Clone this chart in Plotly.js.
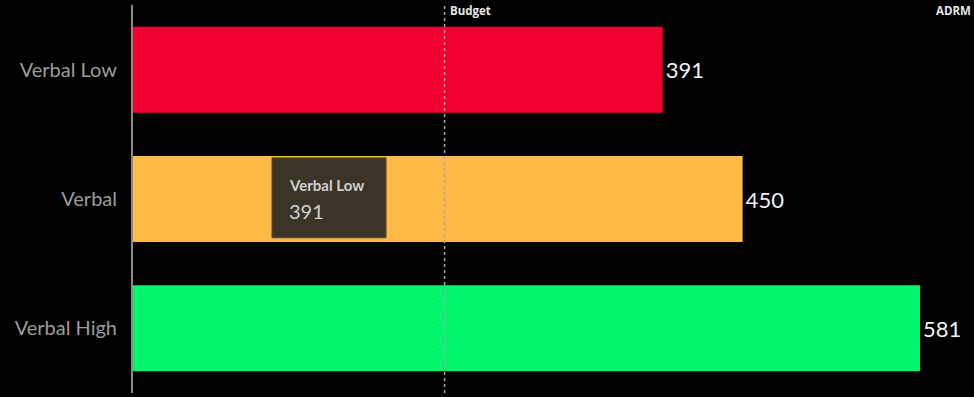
<!DOCTYPE html>
<html>
<head>
<meta charset="utf-8">
<script src="https://cdn.plot.ly/plotly-3.0.1.min.js"></script>
<style>
html,body{margin:0;padding:0;background:#000;overflow:hidden;}
#chart{width:974px;height:397px;}
</style>
</head>
<body>
<div id="chart"></div>
<script>
const categories = ["Verbal Low", "Verbal", "Verbal High"];
const values = [391, 450, 581];
const barColors = ["#F30033", "#FFB946", "#00F56E"];
const budgetValue = 230;
const budgetLabel = "Budget";
const adrmLabel = "ADRM";
const tooltipTitle = "Verbal Low";
const tooltipValue = 391;

const trace = {
  type: "bar",
  orientation: "h",
  y: categories,
  x: values,
  marker: {color: barColors, line: {width: 0}},
  text: values.map(String),
  textposition: "outside",
  textfont: {family: "Lato, 'Open Sans', sans-serif", size: 22, color: "#f2f2f2"},
  cliponaxis: false,
  hoverinfo: "skip"
};

const layout = {
  width: 974,
  height: 397,
  margin: {l: 133, r: 0, t: 5, b: 4},
  paper_bgcolor: "#000",
  plot_bgcolor: "#000",
  showlegend: false,
  hovermode: false,
  bargap: 0.335,
  font: {family: "Lato, 'Open Sans', sans-serif"},
  xaxis: {
    range: [0, 620.8],
    showgrid: false,
    zeroline: false,
    showticklabels: false,
    showline: false,
    fixedrange: true
  },
  yaxis: {
    autorange: "reversed",
    showgrid: false,
    zeroline: false,
    showline: true,
    linecolor: "#8a8a8a",
    linewidth: 2,
    ticks: "outside",
    ticklen: 10,
    tickcolor: "rgba(0,0,0,0)",
    tickfont: {family: "Lato, 'Open Sans', sans-serif", size: 20, color: "#9c9c9c"},
    fixedrange: true
  },
  shapes: [
    {type: "line", xref: "x", yref: "paper", x0: budgetValue, x1: budgetValue, y0: 0, y1: 1,
     line: {color: "#a8a8a8", width: 1.5, dash: "dot"}},
    {type: "rect", xref: "x", yref: "paper", x0: 102.6, x1: 186.8, y0: 0.400, y1: 0.606,
     fillcolor: "#3b3428", line: {color: "#5c4c2e", width: 1}, layer: "above"}
  ],
  annotations: [
    {x: budgetValue, y: 1, xref: "x", yref: "paper", xanchor: "left", yanchor: "top", xshift: 3, yshift: 4,
     text: "<b>" + budgetLabel + "</b>", showarrow: false,
     font: {family: "'Open Sans', sans-serif", size: 11.5, color: "#e6e6e6"}},
    {x: 1, y: 1, xref: "paper", yref: "paper", xanchor: "right", yanchor: "top", xshift: -1, yshift: 4,
     text: "<b>" + adrmLabel + "</b>", showarrow: false,
     font: {family: "'Open Sans', sans-serif", size: 11.5, color: "#e6e6e6"}},
    {x: 113.7, y: 0.537, xref: "x", yref: "paper", xanchor: "left", yanchor: "middle",
     text: "<b>" + tooltipTitle + "</b>", showarrow: false,
     font: {family: "Lato, 'Open Sans', sans-serif", size: 15, color: "#d0d0d0"}},
    {x: 113.7, y: 0.470, xref: "x", yref: "paper", xanchor: "left", yanchor: "middle",
     text: String(tooltipValue), showarrow: false,
     font: {family: "Lato, 'Open Sans', sans-serif", size: 20, color: "#d0d0d0"}}
  ]
};

Plotly.newPlot("chart", [trace], layout, {displayModeBar: false, staticPlot: true});
</script>
</body>
</html>
